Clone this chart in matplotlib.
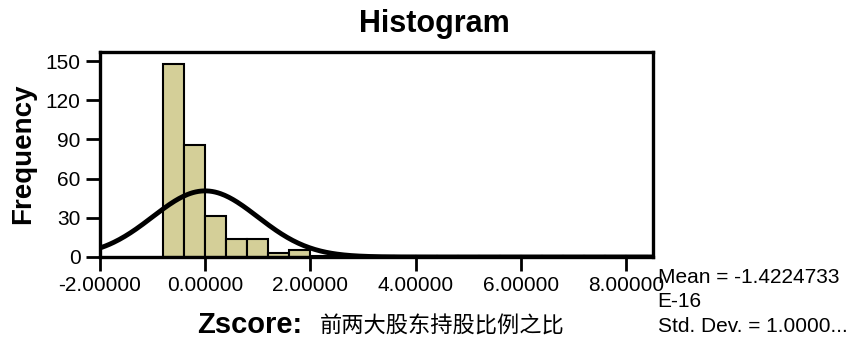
import numpy as np
import matplotlib.pyplot as plt

plt.rcParams['font.family'] = ['Liberation Sans', 'DejaVu Sans']

# Histogram bins (width 0.4) and frequency counts
bin_edges = [-0.8, -0.4, 0.0, 0.4, 0.8, 1.2, 1.6, 2.0, 2.4, 2.8, 3.2, 3.6,
             4.0, 4.4, 4.8, 5.2, 5.6, 6.0, 6.4, 6.8, 7.2, 7.6, 8.0, 8.4]
counts = [148, 86, 31, 14, 14, 3, 5, 1, 1, 1, 1, 1,
          1, 1, 1, 1, 1, 1, 1, 1, 1, 1, 1]

mean = -1.4224733e-16
std = 1.0
yticks = [0, 30, 60, 90, 120, 150]
xticks = [-2, 0, 2, 4, 6, 8]

bar_color = '#d4cf98'

fig = plt.figure(figsize=(8.54, 3.39), dpi=100)
ax = fig.add_axes([0.117, 0.242, 0.648, 0.605])

edges = np.array(bin_edges)
widths = np.diff(edges)
ax.bar(edges[:-1], counts, width=widths, align='edge', color=bar_color,
       edgecolor='black', linewidth=1.5, zorder=2)

# normal curve scaled to the histogram
n = sum(counts)
bw = widths[0]
xs = np.linspace(-2, 8.52, 400)
ys = n * bw * np.exp(-0.5 * ((xs - mean) / std) ** 2) / (std * np.sqrt(2 * np.pi))
ax.plot(xs, ys, color='black', linewidth=3.5, zorder=3)

ax.set_xlim(-2, 8.52)
ax.set_ylim(0, 157)
ax.set_xticks(xticks)
ax.set_xticklabels([f'{t:.5f}' for t in xticks])
ax.set_yticks(yticks)
ax.tick_params(labelsize=15, width=2, length=10, pad=4, color='black')
for s in ax.spines.values():
    s.set_linewidth(2.4)
    s.set_zorder(4)

fig.text(0.509, 0.906, 'Histogram', ha='center', va='baseline',
         fontsize=22, fontweight='bold')
fig.text(0.027, 0.547, 'Frequency', ha='center', va='center', rotation=90,
         fontsize=20, fontweight='bold')
fig.text(0.2307, 0.018, 'Zscore:', ha='left', va='baseline',
         fontsize=21, fontweight='bold')
fig.text(0.3747, 0.018, '前两大股东持股比例之比', ha='left', va='baseline',
         fontsize=16, family=['Noto Sans CJK SC', 'DejaVu Sans'])

# summary statistics beside the plot
fig.text(0.770, 1 - 283 / 339, 'Mean = -1.4224733', ha='left', va='baseline', fontsize=15)
fig.text(0.770, 1 - 307 / 339, 'E-16', ha='left', va='baseline', fontsize=15)
fig.text(0.770, 1 - 332 / 339, 'Std. Dev. = 1.0000...', ha='left', va='baseline', fontsize=15)

fig.savefig('out.png', dpi=100)
